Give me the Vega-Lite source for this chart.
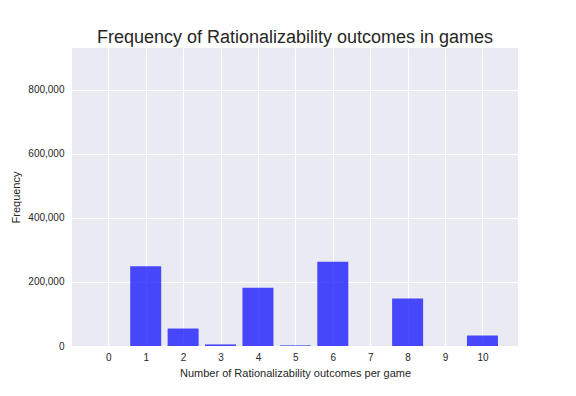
{
  "$schema": "https://vega.github.io/schema/vega-lite/v6.json",
  "width": 446,
  "height": 298,
  "autosize": {"type": "none"},
  "padding": {"left": 72, "top": 48, "right": 58, "bottom": 50},
  "background": "white",
  "title": {
    "text": "Frequency of Rationalizability outcomes in games",
    "font": "Liberation Sans",
    "fontSize": 18,
    "fontWeight": "normal",
    "color": "#262626",
    "baseline": "alphabetic",
    "offset": 6,
    "dy": 19,
    "anchor": "middle"
  },
  "config": {
    "view": {"fill": "#EAEAF2", "stroke": null},
    "axis": {
      "labelFont": "Liberation Sans",
      "titleFont": "Liberation Sans",
      "labelFontSize": 10,
      "titleFontSize": 11,
      "titleFontWeight": "normal",
      "labelColor": "#262626",
      "titleColor": "#262626",
      "domain": false,
      "ticks": false,
      "gridColor": "white",
      "gridWidth": 1,
      "gridOpacity": 1
    }
  },
  "data": {
    "values": [
      {"outcomes": 0, "count": 0},
      {"outcomes": 1, "count": 248500},
      {"outcomes": 2, "count": 54500},
      {"outcomes": 3, "count": 5000},
      {"outcomes": 4, "count": 182000},
      {"outcomes": 5, "count": 2000},
      {"outcomes": 6, "count": 263000},
      {"outcomes": 7, "count": 0},
      {"outcomes": 8, "count": 148000},
      {"outcomes": 9, "count": 0},
      {"outcomes": 10, "count": 32700}
    ]
  },
  "mark": {"type": "bar", "size": 31, "color": "blue", "opacity": 0.7},
  "encoding": {
    "x": {
      "field": "outcomes",
      "type": "quantitative",
      "scale": {"domain": [-0.97, 10.95], "nice": false, "zero": false, "padding": 0},
      "axis": {
        "values": [0, 1, 2, 3, 4, 5, 6, 7, 8, 9, 10],
        "format": "d",
        "labelPadding": 6,
        "titlePadding": 5,
        "title": "Number of Rationalizability outcomes per game"
      }
    },
    "y": {
      "field": "count",
      "type": "quantitative",
      "scale": {"domain": [0, 930000], "nice": false},
      "axis": {
        "values": [0, 200000, 400000, 600000, 800000],
        "format": ",d",
        "labelPadding": 8,
        "titlePadding": 6,
        "title": "Frequency"
      }
    }
  }
}
